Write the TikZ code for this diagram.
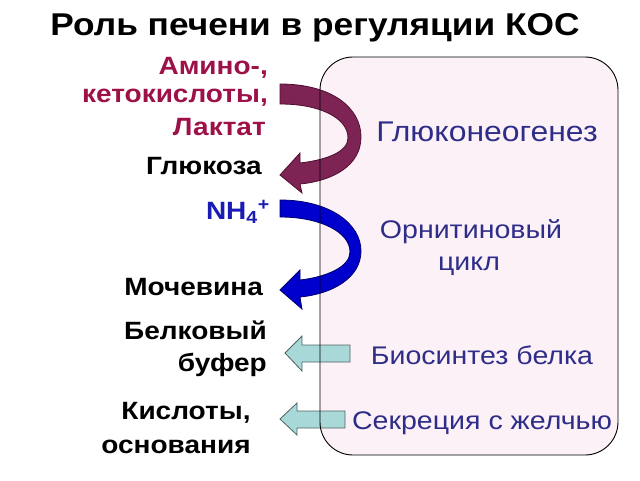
\documentclass[tikz,border=0pt]{standalone}
\usepackage{fontspec}
\setmainfont[FakeStretch=1.12]{Liberation Sans}
\definecolor{liverfill}{HTML}{FDF1F8}
\definecolor{amino}{HTML}{9E1048}
\definecolor{maroonarrow}{HTML}{7E2454}
\definecolor{maroonline}{HTML}{4E0E2E}
\definecolor{bluearrow}{HTML}{0000CC}
\definecolor{blueline}{HTML}{00006E}
\definecolor{proc}{HTML}{2E2E88}
\definecolor{nhblue}{HTML}{1A1AB4}
\definecolor{tealarrow}{HTML}{A8D8D8}
\definecolor{tealline}{HTML}{4E6262}
\tikzset{
  lefttext/.style={anchor=east, inner sep=0pt, font=\fontsize{25}{30}\selectfont\bfseries},
  proctext/.style={inner sep=0pt, text=proc, font=\fontsize{25.5}{30}\selectfont},
}
\begin{document}
\begin{tikzpicture}[x=1pt,y=-1pt]
        \useasboundingbox (0,0) rectangle (640,480);

        % liver
        \fill[liverfill, rounded corners=33pt] (320,57) rectangle (618,455);

        % curved arrows
        \coordinate (m1) at (280,84);
        \coordinate (m2) at (280,104);
        \coordinate (mt) at (280,175);
        \draw[maroonline, fill=maroonarrow, line width=0.8pt]
          (m1) .. controls (332,84) and (361,108) .. (361,137)
               .. controls (361,166) and (332,181) .. (300,184)
            -- (302,193) -- (mt) -- (300,153) -- (300,163)
               .. controls (326,160) and (348,152) .. (348,138)
               .. controls (348,118) and (320,104) .. (m2) -- cycle;

        \coordinate (b1) at (280,200);
        \coordinate (b2) at (280,217);
        \coordinate (bt) at (280,290);
        \draw[blueline, fill=bluearrow, line width=0.8pt]
          (b1) .. controls (330,200) and (361,224) .. (361,251)
               .. controls (361,278) and (332,294) .. (300,297)
            -- (302,309) -- (bt) -- (300,270) -- (300,280)
               .. controls (326,277) and (350,267) .. (350,252)
               .. controls (350,232) and (320,217) .. (b2) -- cycle;

        % straight arrows
        \coordinate (s1) at (285,353);
        \coordinate (s2) at (280,419);
        \draw[tealline, fill=tealarrow, line width=0.8pt]
          (350,345) -- (350,362) -- (302,362) -- (302,371) -- (s1)
            -- (302,336) -- (302,345) -- cycle;
        \draw[tealline, fill=tealarrow, line width=0.8pt]
          (345,411) -- (345,428) -- (297,428) -- (297,435) -- (s2)
            -- (297,403) -- (297,411) -- cycle;

        \draw[black, line width=0.9pt, rounded corners=33pt] (320,57) rectangle (618,455);

        % texts
        \node[inner sep=0pt, font=\fontsize{31.5}{36}\selectfont\bfseries] (title) at (315,28) {Роль печени в регуляции КОС};

        \node[lefttext, text=amino] (amino) at (268,68) {Амино-,};
        \node[lefttext, text=amino] (keto) at (268,98) {кетокислоты,};
        \node[lefttext, text=amino] (lact) at (266,127) {Лактат};
        \node[lefttext] (gluc) at (262,166) {Глюкоза};
        \node[lefttext, text=nhblue] (nh4) at (270,212) {NH\textsubscript{4}\textsuperscript{+}};
        \node[lefttext] (urea) at (263,287) {Мочевина};
        \node[lefttext] (prot1) at (267,330) {Белковый};
        \node[lefttext] (prot2) at (267,365) {буфер};
        \node[inner sep=0pt, font=\fontsize{25}{30}\selectfont\bfseries] (acid1) at (186,413) {Кислоты,};
        \node[inner sep=0pt, font=\fontsize{25}{30}\selectfont\bfseries] (acid2) at (176,447) {основания};

        \node[proctext, font=\fontsize{28.5}{34}\selectfont] (gng) at (487,132) {Глюконеогенез};
        \node[proctext] (orn1) at (471,232) {Орнитиновый};
        \node[proctext] (orn2) at (469,266) {цикл};
        \node[proctext] (bios) at (482,355) {Биосинтез белка};
        \node[proctext] (secr) at (482,423) {Секреция с желчью};
    \end{tikzpicture}
\end{document}
